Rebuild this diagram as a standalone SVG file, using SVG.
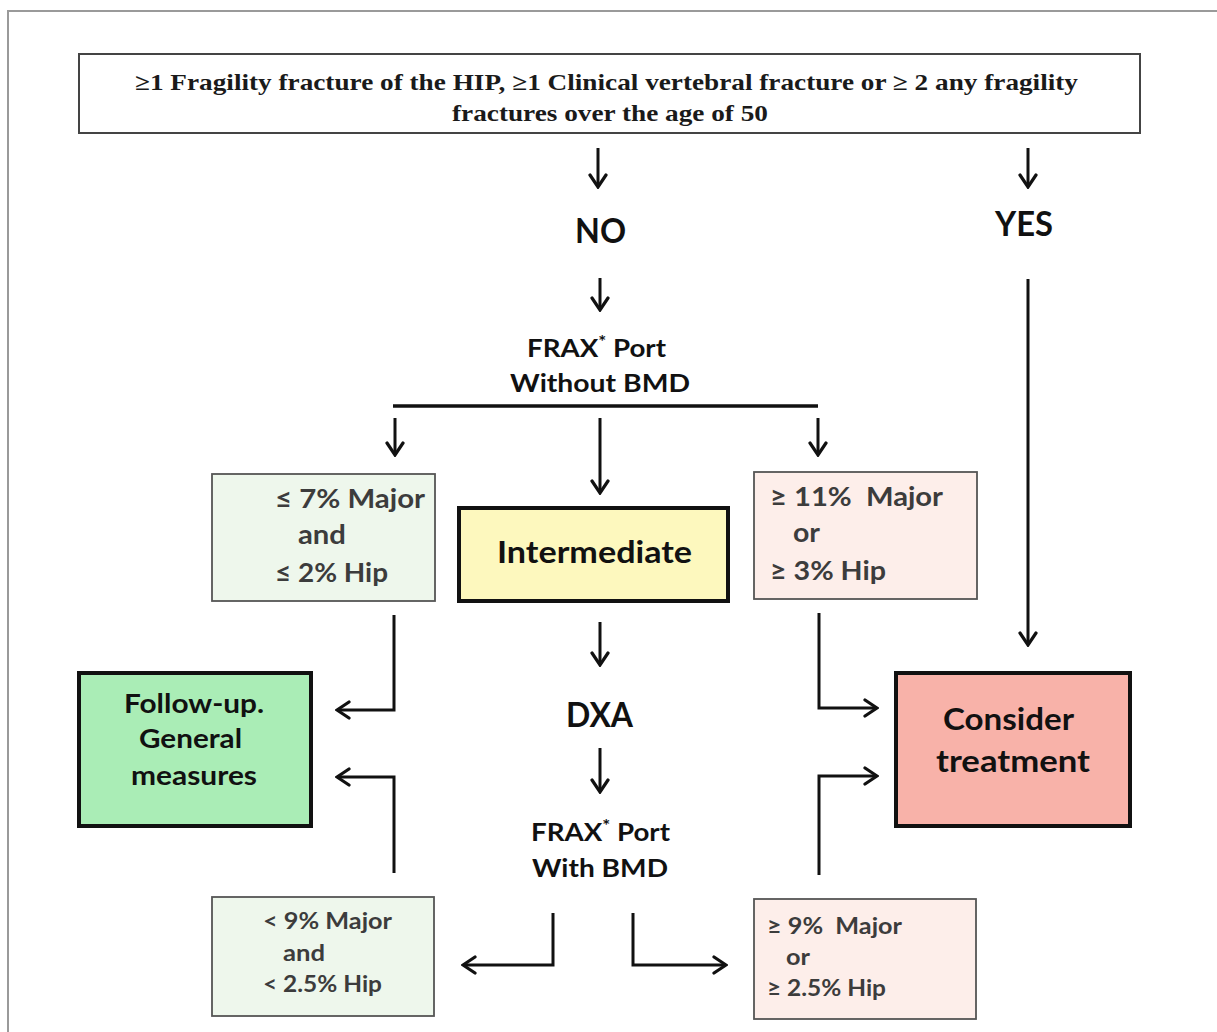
<svg xmlns="http://www.w3.org/2000/svg" width="1217" height="1032" viewBox="0 0 1217 1032">
<defs>
<marker id="ah" viewBox="0 0 16 20" refX="14" refY="10" markerWidth="16" markerHeight="20" markerUnits="userSpaceOnUse" orient="auto">
<path d="M2,2 L14,10 L2,18" fill="none" stroke="#111" stroke-width="3.2" stroke-linecap="round" stroke-linejoin="miter"/>
</marker>
<style>
.serif{font-family:"Liberation Serif","Times New Roman",serif;font-weight:bold;fill:#1a1a1a}
.sans{font-family:Lato,"Open Sans","Liberation Sans",sans-serif;font-weight:bold;fill:#111}
.soft{font-family:Lato,"Open Sans","Liberation Sans",sans-serif;font-weight:bold;fill:#3c3c3c;white-space:pre}
.conn{fill:none;stroke:#111;stroke-width:3;marker-end:url(#ah)}
.bar{fill:none;stroke:#111;stroke-width:3.5}
.light{stroke:#555;stroke-width:1.8}
.heavy{stroke:#111;stroke-width:4}
</style>
</defs>
<rect x="0" y="0" width="1217" height="1032" fill="#fff"/>
<rect x="8" y="11" width="1230" height="1040" fill="none" stroke="#9a9a9a" stroke-width="2"/>

<g id="top">
<rect x="79" y="54" width="1061" height="79" fill="#fff" stroke="#444" stroke-width="2"/>
<text class="serif" x="135" y="90" font-size="23" textLength="943" lengthAdjust="spacingAndGlyphs">≥1 Fragility fracture of the HIP, ≥1 Clinical vertebral fracture or ≥ 2 any fragility</text>
<text class="serif" x="452" y="121" font-size="23" textLength="316" lengthAdjust="spacingAndGlyphs">fractures over the age of 50</text>
</g>

<g id="no"><text class="sans" x="575" y="243" font-size="34" textLength="51" lengthAdjust="spacingAndGlyphs">NO</text></g>
<g id="yes"><text class="sans" x="995" y="236" font-size="34" textLength="58" lengthAdjust="spacingAndGlyphs">YES</text></g>

<g id="frax1">
<text class="sans" x="527" y="357" font-size="25" textLength="139" lengthAdjust="spacingAndGlyphs">FRAX<tspan font-size="17" dy="-9">*</tspan><tspan dy="9"> Port</tspan></text>
<text class="sans" x="510" y="392" font-size="25" textLength="180" lengthAdjust="spacingAndGlyphs">Without BMD</text>
</g>

<g id="low1">
<rect x="212" y="474" width="223" height="127" fill="#eef7ec" class="light"/>
<text class="soft" x="275" y="508" font-size="26" textLength="150" lengthAdjust="spacingAndGlyphs">≤ 7% Major</text>
<text class="soft" x="298" y="544" font-size="26" textLength="48" lengthAdjust="spacingAndGlyphs">and</text>
<text class="soft" x="275" y="582" font-size="26" textLength="113" lengthAdjust="spacingAndGlyphs">≤ 2% Hip</text>
</g>

<g id="intermediate">
<rect x="459" y="508" width="269" height="93" fill="#fdf8be" class="heavy"/>
<text class="sans" x="497" y="563" font-size="30" textLength="195" lengthAdjust="spacingAndGlyphs">Intermediate</text>
</g>

<g id="high1">
<rect x="754" y="472" width="223" height="127" fill="#fdeeea" class="light"/>
<text class="soft" x="770" y="506" font-size="26" textLength="173" lengthAdjust="spacingAndGlyphs">≥ 11%  Major</text>
<text class="soft" x="793" y="542" font-size="26" textLength="27" lengthAdjust="spacingAndGlyphs">or</text>
<text class="soft" x="770" y="580" font-size="26" textLength="116" lengthAdjust="spacingAndGlyphs">≥ 3% Hip</text>
</g>

<g id="followup">
<rect x="79" y="673" width="232" height="153" fill="#aaedb6" class="heavy"/>
<text class="sans" x="124" y="713" font-size="27" textLength="140" lengthAdjust="spacingAndGlyphs">Follow-up.</text>
<text class="sans" x="139" y="748" font-size="27" textLength="103" lengthAdjust="spacingAndGlyphs">General</text>
<text class="sans" x="131" y="785" font-size="27" textLength="126" lengthAdjust="spacingAndGlyphs">measures</text>
</g>

<g id="dxa"><text class="sans" x="566" y="727" font-size="34" textLength="67" lengthAdjust="spacingAndGlyphs">DXA</text></g>

<g id="frax2">
<text class="sans" x="531" y="841" font-size="25" textLength="139" lengthAdjust="spacingAndGlyphs">FRAX<tspan font-size="17" dy="-9">*</tspan><tspan dy="9"> Port</tspan></text>
<text class="sans" x="532" y="877" font-size="25" textLength="136" lengthAdjust="spacingAndGlyphs">With BMD</text>
</g>

<g id="treat">
<rect x="896" y="673" width="234" height="153" fill="#f8b2a9" class="heavy"/>
<text class="sans" x="943" y="730" font-size="30" textLength="131" lengthAdjust="spacingAndGlyphs">Consider</text>
<text class="sans" x="936" y="772" font-size="30" textLength="154" lengthAdjust="spacingAndGlyphs">treatment</text>
</g>

<g id="low2">
<rect x="212" y="897" width="222" height="119" fill="#eef7ec" class="light"/>
<text class="soft" x="263" y="929" font-size="22" textLength="129" lengthAdjust="spacingAndGlyphs">&lt; 9% Major</text>
<text class="soft" x="283" y="961" font-size="22" textLength="42" lengthAdjust="spacingAndGlyphs">and</text>
<text class="soft" x="263" y="992" font-size="22" textLength="119" lengthAdjust="spacingAndGlyphs">&lt; 2.5% Hip</text>
</g>

<g id="high2">
<rect x="754" y="899" width="222" height="120" fill="#fdeeea" class="light"/>
<text class="soft" x="767" y="934" font-size="22" textLength="135" lengthAdjust="spacingAndGlyphs">≥ 9%  Major</text>
<text class="soft" x="786" y="965" font-size="22" textLength="24" lengthAdjust="spacingAndGlyphs">or</text>
<text class="soft" x="767" y="996" font-size="22" textLength="119" lengthAdjust="spacingAndGlyphs">≥ 2.5% Hip</text>
</g>

<g id="connectors">
<path class="conn" d="M598,148 V187"/>
<path class="conn" d="M1028,148 V187"/>
<path class="conn" d="M600,278 V310"/>
<path class="bar" d="M393,406 H818"/>
<path class="conn" d="M395,418 V455"/>
<path class="conn" d="M600,418 V493"/>
<path class="conn" d="M818,418 V455"/>
<path class="conn" d="M1028,279 V645"/>
<path class="conn" d="M394,615 V710 H337"/>
<path class="conn" d="M394,873 V777 H337"/>
<path class="conn" d="M600,622 V665"/>
<path class="conn" d="M600,748 V792"/>
<path class="conn" d="M819,613 V708 H877"/>
<path class="conn" d="M819,875 V776 H877"/>
<path class="conn" d="M553,913 V965 H463"/>
<path class="conn" d="M633,913 V965 H726"/>
</g>
</svg>
